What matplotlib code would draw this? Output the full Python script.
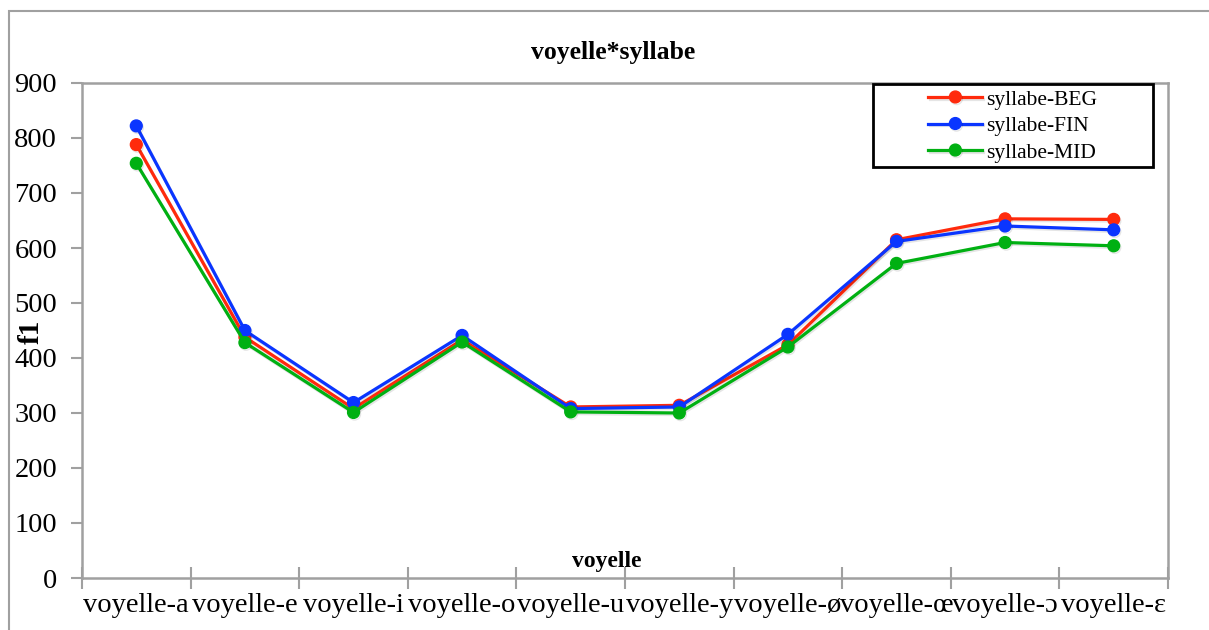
import matplotlib.pyplot as plt
import matplotlib.patheffects as pe
from matplotlib.patches import Rectangle
import numpy as np

# vowels on the x axis, mean F1 per syllable position
voyelles = ['voyelle-a', 'voyelle-e', 'voyelle-i', 'voyelle-o', 'voyelle-u',
            'voyelle-y', 'voyelle-ø', 'voyelle-œ', 'voyelle-ɔ', 'voyelle-ɛ']
f1_beg = [788, 438, 308, 433, 311, 314, 424, 615, 653, 652]
f1_fin = [822, 450, 319, 441, 308, 311, 443, 612, 640, 633]
f1_mid = [754, 428, 301, 429, 302, 300, 420, 572, 610, 604]

series = [('syllabe-BEG', f1_beg, '#ff2a0c'),
          ('syllabe-FIN', f1_fin, '#0a35ff'),
          ('syllabe-MID', f1_mid, '#00b012')]

plt.rcParams['font.family'] = ['Liberation Serif', 'DejaVu Serif']

W, H = 1209, 630
fig = plt.figure(figsize=(W / 100, H / 100), dpi=100)
ax = fig.add_axes([82 / W, 1 - 578 / H, (1168 - 82) / W, (578 - 83) / H])

# outer chart frame
fig.patches.append(Rectangle((9 / W, -0.1), 1.2, 1.1 - 11 / H,
                             transform=fig.transFigure, fill=False,
                             edgecolor='#a0a0a0', linewidth=1.5))

x = np.arange(len(voyelles))
shadow = [pe.SimpleLineShadow(offset=(0.8, -1.2), shadow_color='k', alpha=0.1), pe.Normal()]
for name, vals, col in series:
    ax.plot(x, vals, color=col, lw=2.3, marker='o', ms=8.5, label=name,
            path_effects=shadow)

ax.set_xlim(-0.5, len(voyelles) - 0.5)
ax.set_ylim(0, 900)
ax.set_yticks(range(0, 901, 100))
ax.set_xticks(x)
ax.set_xticklabels(voyelles, fontsize=20.5)
ax.set_xticks(np.arange(-0.5, len(voyelles)), minor=True)
ax.tick_params(axis='x', which='major', length=0, pad=11)
ax.tick_params(axis='x', which='minor', direction='inout', length=16,
               width=1.5, color='#a0a0a0')
ax.tick_params(axis='y', direction='out', length=8, width=1.5,
               color='#a0a0a0', labelsize=20.5, pad=10)
for s in ax.spines.values():
    s.set_color('#a0a0a0')
    s.set_linewidth(1.8)

fig.text(613 / W, 1 - 53 / H, 'voyelle*syllabe', ha='center', va='center',
         fontsize=18.5, fontweight='bold')
fig.text(607 / W, 1 - 562 / H, 'voyelle', ha='center', va='center',
         fontsize=17, fontweight='bold')
fig.text(31 / W, 1 - 332 / H, 'f1', ha='center', va='center', rotation=90,
         fontsize=21, fontweight='bold')

# legend box
fig.patches.append(Rectangle((873 / W, 1 - 167 / H), 280 / W, 83 / H,
                             transform=fig.transFigure, fill=False,
                             edgecolor='black', linewidth=2, zorder=5))
leg = ax.legend(loc='center', bbox_to_anchor=(1013 / W, 1 - 126 / H),
                bbox_transform=fig.transFigure, frameon=False, fontsize=15.5,
                handlelength=2.5, handletextpad=0.2, labelspacing=0.3,
                borderpad=0)

fig.savefig('out.png', dpi=100)
